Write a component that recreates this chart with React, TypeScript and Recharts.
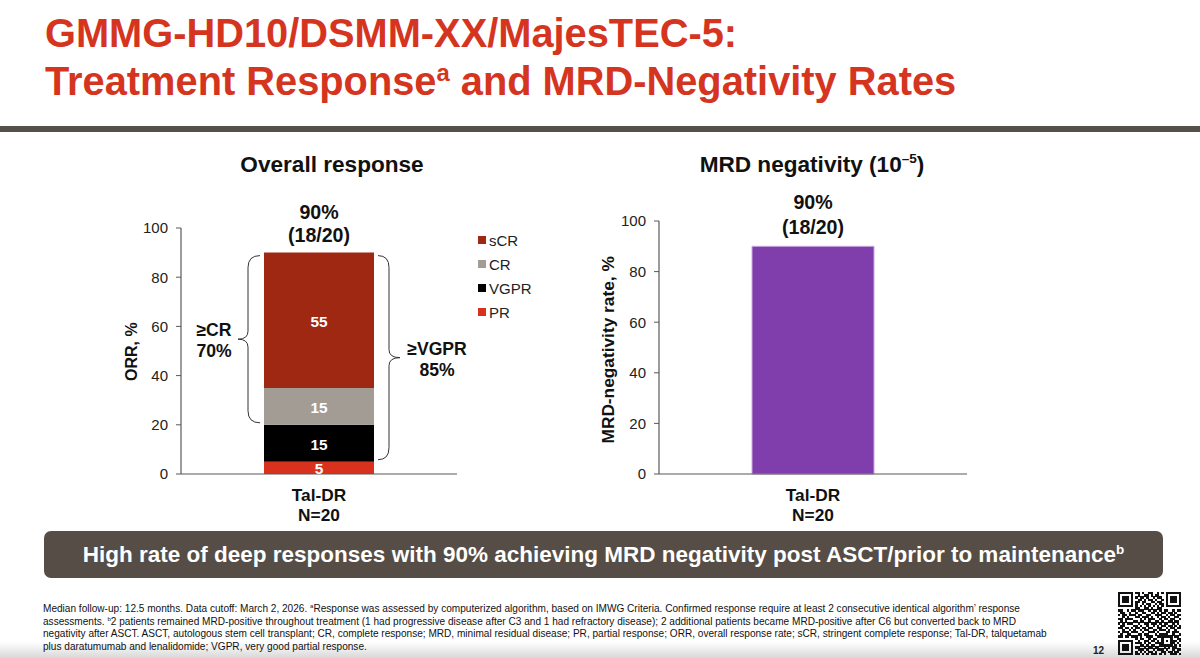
import React from 'react';
import { BarChart, Bar, XAxis, YAxis, Legend, LabelList, ReferenceArea } from 'recharts';

const categories = ['Tal-DR'];
const sampleSizes = ['N=20'];
const prValues = [5];
const vgprValues = [15];
const crValues = [15];
const scrValues = [55];
const mrdValues = [90];
const yTicks = [0, 20, 40, 60, 80, 100];
const totalLabel = ['90%', '(18/20)'];
const legendOrder = ['sCR', 'CR', 'VGPR', 'PR'];
const footnotes = [
  <>Median follow-up: 12.5 months. Data cutoff: March 2, 2026. <sup>a</sup>Response was assessed by computerized algorithm, based on IMWG Criteria. Confirmed response require at least 2 consecutive identical algorithm’ response</>,
  <>assessments. <sup>b</sup>2 patients remained MRD-positive throughout treatment (1 had progressive disease after C3 and 1 had refractory disease); 2 additional patients became MRD-positive after C6 but converted back to MRD</>,
  <>negativity after ASCT. ASCT, autologous stem cell transplant; CR, complete response; MRD, minimal residual disease; PR, partial response; ORR, overall response rate; sCR, stringent complete response; Tal-DR, talquetamab</>,
  <>plus daratumumab and lenalidomide; VGPR, very good partial response.</>,
];
// approximate QR pattern from the slide corner
const qrRows = [
  '11111110110100110010101111111',
  '10000010010011010110001000001',
  '10111010101101001011001011101',
  '10111010011010110100101011101',
  '10111010110110011011001011101',
  '10000010100101100101101000001',
  '11111110101010101010101111111',
  '00000000110011010011000000000',
  '11001011011100101101011001011',
  '01100100100110011010110110100',
  '10110111011001100111001011011',
  '00101000110111010010110100110',
  '11011110001010111001011011001',
  '01010001101100100110100110110',
  '10101110010011011101011001010',
  '01100001101001001010110110101',
  '11011010110110110011001011011',
  '00100101001011001101110100100',
  '10111011100100111010001101110',
  '01001100011011000101111001001',
  '11011011101001110011111110110',
  '00000000101100101100100010011',
  '11111110010011011010101011101',
  '10000010111010100111100011010',
  '10111010001101011001111110101',
  '10111010110010110110010101100',
  '10111010011101001011101001011',
  '10000010101010110100110110110',
  '11111110110101011101010011101',
];

const overallData = categories.map((name, i) => ({
  name,
  n: sampleSizes[i],
  PR: prValues[i],
  VGPR: vgprValues[i],
  CR: crValues[i],
  sCR: scrValues[i],
}));
const mrdData = categories.map((name, i) => ({ name, n: sampleSizes[i], rate: mrdValues[i] }));

const FONT = '"Liberation Sans", Arial, sans-serif';
const AXIS = '#595959';

function CategoryTick({ x, y, payload }: any) {
  const i = categories.indexOf(payload.value);
  return (
    <text x={x} textAnchor="middle" fontFamily={FONT} fontSize={17.3} fontWeight={700} fill="#111">
      <tspan x={x} y={y + 19}>{payload.value}</tspan>
      <tspan x={x} y={y + 39}>{sampleSizes[i]}</tspan>
    </text>
  );
}

// "90%" / "(18/20)" above the bar
function TotalLabel({ x, y, width, top, gap }: any) {
  return (
    <text x={x + width / 2} textAnchor="middle" fontFamily={FONT} fontSize={19.6} fontWeight={700} fill="#111">
      <tspan x={x + width / 2} y={y - top}>{totalLabel[0]}</tspan>
      <tspan x={x + width / 2} y={y - top + gap}>{totalLabel[1]}</tspan>
    </text>
  );
}

function bracePath(tipX: number, bodyX: number, endX: number, y0: number, y1: number) {
  const mid = (y0 + y1) / 2;
  return `M${endX} ${y0} Q${bodyX} ${y0} ${bodyX} ${y0 + 12} L${bodyX} ${mid - 8} Q${bodyX} ${mid} ${tipX} ${mid} Q${bodyX} ${mid} ${bodyX} ${mid + 8} L${bodyX} ${y1 - 12} Q${bodyX} ${y1} ${endX} ${y1}`;
}

// brace down the side of the bar; the vertical span comes from the y scale
function Brace({ x, y, height, tip, body, end, lines, textX, textY }: any) {
  return (
    <g>
      <path d={bracePath(x + tip, x + body, x + end, y + 3, y + height - 2)} fill="none" stroke="#333" strokeWidth={1} />
      <text textAnchor="middle" fontFamily={FONT} fontSize={17.6} fontWeight={700} fill="#111">
        <tspan x={x + textX} y={y + height / 2 + textY}>{lines[0]}</tspan>
        <tspan x={x + textX} y={y + height / 2 + textY + 21}>{lines[1]}</tspan>
      </text>
    </g>
  );
}

function ResponseLegend({ payload }: any) {
  const items = legendOrder.map((name) => (payload ?? []).find((it: any) => it.value === name)).filter(Boolean);
  return (
    <div style={{ paddingLeft: 21 }}>
      {items.map((it: any) => (
        <div key={it.value} style={{ display: 'flex', alignItems: 'center', height: 24, fontFamily: FONT, fontSize: 15, color: '#222', whiteSpace: 'nowrap' }}>
          <span style={{ width: 8, height: 8, flexShrink: 0, background: it.color, marginRight: 3 }} />
          {it.value}
        </div>
      ))}
    </div>
  );
}

const segmentLabel = { fill: '#fff', fontFamily: FONT, fontSize: 15.4, fontWeight: 700 };
const tickStyle = { fontFamily: FONT, fontSize: 15, fill: '#222' };
const axisTitle = { fontFamily: FONT, fontSize: 16, fontWeight: 700, fill: '#111' };
const axisTitleMrd = { ...axisTitle, fontSize: 17.3 };

function OverallChart() {
  return (
    <BarChart width={440} height={360} data={overallData} margin={{ top: 48, right: 3, bottom: 20, left: 11 }}>
      <XAxis dataKey="name" height={46} tick={<CategoryTick />} tickLine={false} axisLine={{ stroke: AXIS, strokeWidth: 1.2 }} interval={0} />
      <YAxis
        width={60}
        domain={[0, 100]}
        ticks={yTicks}
        tickSize={5}
        tickMargin={8}
        tick={tickStyle}
        tickLine={{ stroke: AXIS }}
        axisLine={{ stroke: AXIS, strokeWidth: 1.2 }}
        label={{ value: 'ORR, %', angle: -90, position: 'insideLeft', offset: 10, dy: 30, style: axisTitle }}
      />
      <Legend layout="vertical" align="right" verticalAlign="top" width={90} wrapperStyle={{ top: 48 }} content={<ResponseLegend />} />
      <Bar dataKey="PR" stackId="a" fill="#D8321E" barSize={110} isAnimationActive={false}>
        <LabelList dataKey="PR" position="center" dy={1} style={segmentLabel} />
      </Bar>
      <Bar dataKey="VGPR" stackId="a" fill="#000000" barSize={110} isAnimationActive={false}>
        <LabelList dataKey="VGPR" position="center" dy={1} style={segmentLabel} />
      </Bar>
      <Bar dataKey="CR" stackId="a" fill="#A39C95" barSize={110} isAnimationActive={false}>
        <LabelList dataKey="CR" position="center" dy={1} style={segmentLabel} />
      </Bar>
      <Bar dataKey="sCR" stackId="a" fill="#9E2811" barSize={110} isAnimationActive={false}>
        <LabelList dataKey="sCR" position="center" dy={1} style={segmentLabel} />
        <LabelList dataKey="sCR" content={(p: any) => <TotalLabel {...p} top={34} gap={23} />} />
      </Bar>
      <ReferenceArea y1={20} y2={90} fill="none" stroke="none" ifOverflow="visible"
        shape={(p: any) => <Brace {...p} tip={57} body={67} end={79} lines={['≥CR', '70%']} textX={33} textY={-3} />} />
      <ReferenceArea y1={5} y2={90} fill="none" stroke="none" ifOverflow="visible"
        shape={(p: any) => <Brace {...p} tip={219} body={208} end={197} lines={['≥VGPR', '85%']} textX={256} textY={-2} />} />
    </BarChart>
  );
}

function MrdChart() {
  return (
    <BarChart width={400} height={360} data={mrdData} margin={{ top: 41, right: 13, bottom: 20, left: 19 }}>
      <XAxis dataKey="name" height={46} tick={<CategoryTick />} tickLine={false} axisLine={{ stroke: AXIS, strokeWidth: 1.2 }} interval={0} />
      <YAxis
        width={60}
        domain={[0, 100]}
        ticks={yTicks}
        tickSize={5}
        tickMargin={8}
        tick={tickStyle}
        tickLine={{ stroke: AXIS }}
        axisLine={{ stroke: AXIS, strokeWidth: 1.2 }}
        label={{ value: 'MRD-negativity rate, %', angle: -90, position: 'insideLeft', offset: 9, dy: 96, style: axisTitleMrd }}
      />
      <Bar dataKey="rate" fill="#7F3EAC" stroke="#C9A8DE" strokeWidth={1} barSize={122} isAnimationActive={false}>
        <LabelList dataKey="rate" content={(p: any) => <TotalLabel {...p} top={37} gap={25} />} />
      </Bar>
    </BarChart>
  );
}

function QrCode() {
  const unit = 63 / qrRows.length;
  return (
    <svg width={63} height={63} style={{ position: 'absolute', left: 1118, top: 592 }} shapeRendering="crispEdges">
      {qrRows.map((row, r) =>
        row.split('').map((c, k) => (c === '1' ? <rect key={`${r}-${k}`} x={k * unit} y={r * unit} width={unit + 0.2} height={unit + 0.2} fill="#111" /> : null)),
      )}
    </svg>
  );
}

const abs = (left: number, top: number): React.CSSProperties => ({ position: 'absolute', left, top });

export default function App() {
  return (
    <div style={{ position: 'relative', width: 1200, height: 658, overflow: 'hidden', background: '#fff', fontFamily: FONT }}>
      <style>{'body{margin:0} sup{font-size:60%;line-height:0}'}</style>
      <div style={{ position: 'absolute', left: 0, right: 0, bottom: 0, height: 16, background: 'linear-gradient(to bottom, rgba(200,200,200,0), rgba(190,190,190,0.6))' }} />

      <div style={{ ...abs(45, 9), color: '#D5351F', fontWeight: 700, fontSize: 39.8, lineHeight: '48px', whiteSpace: 'nowrap' }}>
        GMMG-HD10/DSMM-XX/MajesTEC-5:<br />
        Treatment Response<sup>a</sup> and MRD-Negativity Rates
      </div>
      <div style={{ ...abs(0, 126), width: 1200, height: 6, background: '#55504A' }} />

      <div style={{ position: 'absolute', left: 182, width: 300, top: 152, textAlign: 'center', fontWeight: 700, fontSize: 22.6, color: '#111' }}>Overall response</div>
      <div style={{ position: 'absolute', left: 662, width: 300, top: 152, textAlign: 'center', fontWeight: 700, fontSize: 22.6, color: '#111' }}>MRD negativity (10<sup>–5</sup>)</div>

      <div style={abs(110, 180)}><OverallChart /></div>
      <div style={abs(580, 180)}><MrdChart /></div>

      <div style={{ ...abs(44, 531), width: 1119, height: 47, borderRadius: 7, background: '#554D46', color: '#fff', fontWeight: 700, fontSize: 22.5, lineHeight: '47px', textAlign: 'center', whiteSpace: 'nowrap' }}>
        High rate of deep responses with 90% achieving MRD negativity post ASCT/prior to maintenance<sup>b</sup>
      </div>

      <div style={{ ...abs(43, 603), fontSize: 10.08, lineHeight: '12.6px', color: '#111', whiteSpace: 'nowrap' }}>
        {footnotes.map((line, i) => <div key={i}>{line}</div>)}
      </div>
      <QrCode />
      <div style={{ ...abs(1093, 645), fontSize: 10, fontWeight: 700, color: '#222' }}>12</div>
    </div>
  );
}
